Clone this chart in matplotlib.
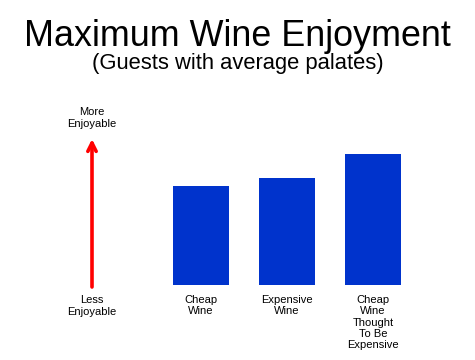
import matplotlib
matplotlib.use("Agg")
import matplotlib.pyplot as plt

categories = ["Cheap\nWine", "Expensive\nWine", "Cheap\nWine\nThought\nTo Be\nExpensive"]
values = [99, 107, 131]
title = "Maximum Wine Enjoyment"
subtitle = "(Guests with average palates)"
top_label = "More\nEnjoyable"
bottom_label = "Less\nEnjoyable"

plt.rcParams['font.family'] = ['Liberation Sans', 'DejaVu Sans']

fig = plt.figure(figsize=(4.75, 3.6), dpi=100)
ax = fig.add_axes([0, 0, 1, 1])
# one unit per pixel vertically; categories spaced 86 px
ax.set_xlim(-201/86, (475-201)/86)
ax.set_ylim(-75, 285)
ax.axis('off')

x = list(range(len(categories)))
ax.bar(x, values, width=0.66, color='#0033CC', align='center')
for xi, lab in zip(x, categories):
    ax.text(xi, -10, lab, ha='center', va='top', fontsize=8, linespacing=1.16)

fig.text(0.5, 1 - 37/360, title, ha='center', va='center', fontsize=25.8)
fig.text(0.5, 1 - 63/360, subtitle, ha='center', va='center', fontsize=15.8)

ax_x = 92/475
fig.text(ax_x, 1 - 118/360, top_label, ha='center', va='center', fontsize=8, linespacing=1.16)
fig.text(ax_x, 1 - 306/360, bottom_label, ha='center', va='center', fontsize=8, linespacing=1.16)
ax.annotate('', xy=(ax_x, 1 - 139/360), xytext=(ax_x, 1 - 287/360),
            xycoords='figure fraction', textcoords='figure fraction',
            arrowprops=dict(arrowstyle='->,head_length=0.6,head_width=0.3', color='#FF0000', lw=2.6,
                            shrinkA=0, shrinkB=0))

fig.savefig('out.png', dpi=100)
